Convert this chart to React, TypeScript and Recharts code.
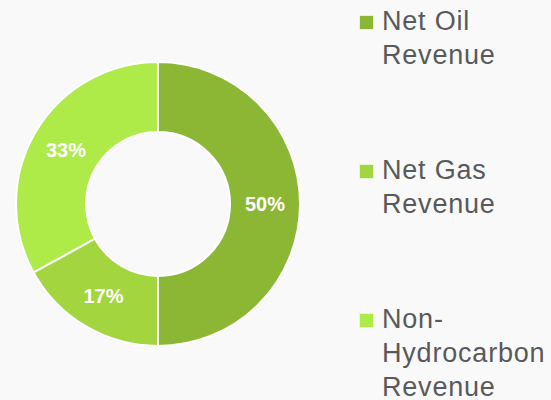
import { PieChart, Pie, Cell } from "recharts";

const categories = ["Net Oil Revenue", "Net Gas Revenue", "Non-Hydrocarbon Revenue"];
const legendLines = [["Net Oil", "Revenue"], ["Net Gas", "Revenue"], ["Non-", "Hydrocarbon", "Revenue"]];
const shares = [50, 17, 33];
const colors = ["#8cb734", "#a3d53f", "#aeea48"];

const data = categories.map((name, i) => ({ name, value: shares[i] }));
const FONT = "'Liberation Sans', Arial, sans-serif";
const RAD = Math.PI / 180;

function renderLabel(props: any) {
  const { cx, cy, midAngle, innerRadius, outerRadius, value } = props;
  const r = (innerRadius + outerRadius) / 2;
  const x = cx + r * Math.cos(-midAngle * RAD);
  const y = cy + r * Math.sin(-midAngle * RAD);
  return (
    <text x={x} y={y} fill="#ffffff" fontSize={20} fontWeight="bold" fontFamily={FONT} textAnchor="middle" dominantBaseline="central">
      {value}%
    </text>
  );
}

function LegendBox() {
  return (
    <div style={{ position: "absolute", left: 359, top: 4, width: 192, fontFamily: FONT, fontSize: 27, letterSpacing: 0.8, color: "#595959" }}>
      {legendLines.map((lines, i) => (
        <div key={i} style={{ height: 149, display: "flex", alignItems: "flex-start" }}>
          <div style={{ width: 13, height: 13, background: colors[i], border: "1px solid #e8f5d0", marginTop: 11, marginRight: 8, flexShrink: 0 }} />
          <div style={{ lineHeight: "34px" }}>
            {lines.map((l, j) => (
              <div key={j} style={{ whiteSpace: "nowrap" }}>{l}</div>
            ))}
          </div>
        </div>
      ))}
    </div>
  );
}

export default function App() {
  return (
    <div style={{ position: "absolute", left: 0, top: 0, width: 551, height: 400, background: "#f9f9f9", overflow: "hidden" }}>
      <PieChart width={551} height={400} margin={{ top: 0, right: 0, bottom: 0, left: 0 }}>
        <Pie
          data={data}
          dataKey="value"
          cx={158}
          cy={204}
          innerRadius={72}
          outerRadius={142}
          startAngle={90}
          endAngle={-270}
          stroke="#ffffff"
          strokeWidth={2}
          label={renderLabel}
          labelLine={false}
          isAnimationActive={false}
        >
          {data.map((d, i) => (
            <Cell key={d.name} fill={colors[i]} />
          ))}
        </Pie>
      </PieChart>
      <LegendBox />
    </div>
  );
}
